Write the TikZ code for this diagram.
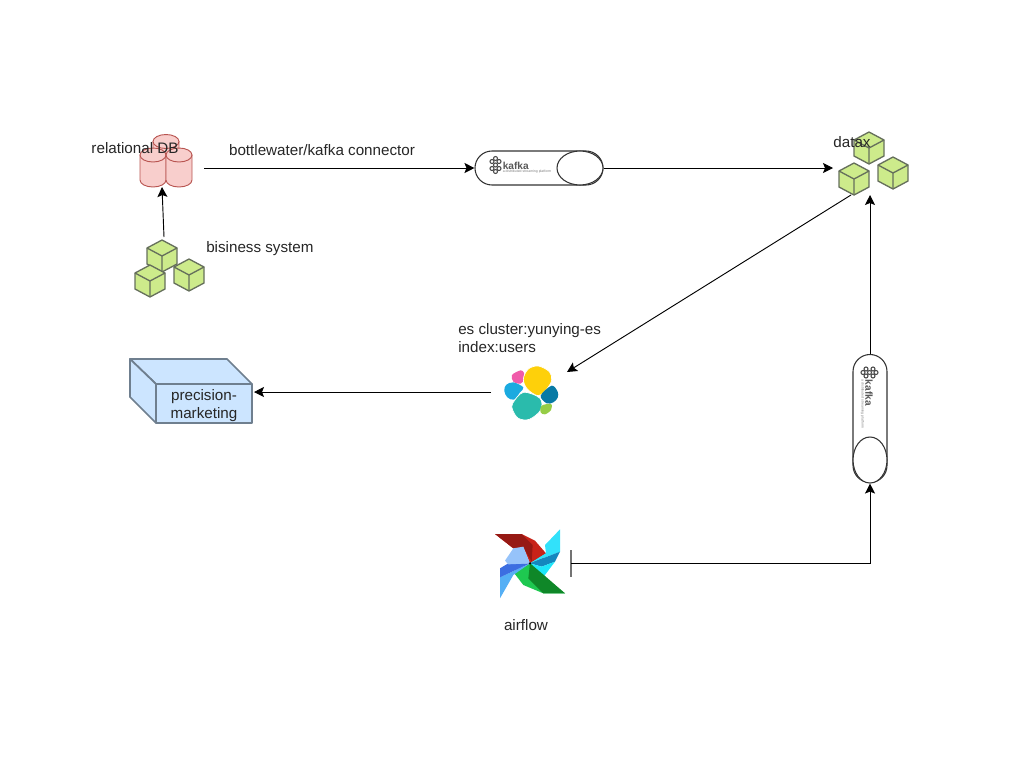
\documentclass[tikz,border=0pt]{standalone}
\usepackage{fontspec}
\setmainfont{Liberation Sans}
\usetikzlibrary{positioning,calc,arrows.meta,shapes.misc,shapes.geometric}
\definecolor{dbfill}{HTML}{F8CECC}
\definecolor{dbline}{HTML}{B85450}
\definecolor{cubefill}{HTML}{CDEB8B}
\definecolor{cubeline}{HTML}{66705C}
\definecolor{boxfill}{HTML}{CCE5FF}
\definecolor{boxline}{HTML}{6F7F8F}
\tikzset{>={Stealth[length=7.5pt,width=7.5pt,inset=1.5pt]}}
\tikzset{flow/.style={->,line width=.7pt,black}}
\tikzset{lab/.style={font=\fontsize{11.4}{13.5}\selectfont,inner sep=0pt,text=black!85}}
\tikzset{pipe/.style={draw=black!80,line width=.8pt,fill=white,rounded rectangle,minimum width=96pt,minimum height=25.5pt,inner sep=0pt}}
\tikzset{pipeend/.style={draw=black!80,line width=.8pt,fill=white,ellipse,minimum width=34.5pt,minimum height=25.5pt,inner sep=0pt}}
\tikzset{facecube/.style={draw=boxline,line width=1.3pt,fill=boxfill,line join=round}}
\tikzset{cubeface/.style={draw=cubeline,line width=1pt,fill=cubefill,line join=round}}
\tikzset{dbcyl/.style={draw=dbline,line width=.7pt,fill=dbfill}}
\tikzset{blob/.style={smooth cycle,tension=.55}}
\tikzset{cube/.pic={
		\draw[cubeface] (0,-16) -- (15,-8) -- (15,8) -- (0,16) -- (-15,8) -- (-15,-8) -- cycle;
		\draw[cubeline,line width=1pt] (-15,-8) -- (0,0) -- (15,-8) (0,0) -- (0,16);
	}}
\tikzset{cyl/.pic={
		\draw[dbcyl] (-13,-25) -- (-13,0) arc[x radius=13,y radius=7,start angle=180,end angle=0] -- (13,-25) -- cycle;
		\draw[dbcyl] (0,-25) ellipse[x radius=13,y radius=7];
	}}
\tikzset{kafkalogo/.pic={
		\foreach \p in {(0,-6.5),(-3.5,-3.5),(3.5,-3.5),(0,0),(-3.5,3.5),(3.5,3.5),(0,6.5)}
			\draw[black!70,line width=.8pt] \p circle[radius=2];
		\node[inner sep=0pt,anchor=west,transform shape,text=black!65,font=\fontsize{7.6}{8}\selectfont\bfseries] (kafkaword) at (7,0.5) {kafka};
		\node[inner sep=0pt,anchor=west,transform shape,text=black!50,font=\fontsize{2.6}{3}\selectfont] (kafkasub) at (7,7) {a distributed streaming platform};
	}}
\begin{document}
\begin{tikzpicture}[x=.75pt,y=-.75pt]
		\useasboundingbox (0,0) rectangle (1024,768);

		% relational db
		\pic at (166,166.5) {cyl};
		\pic at (153,180) {cyl};
		\pic at (179,180) {cyl};
		\coordinate (dbout) at (204,168);
		\coordinate (dbin) at (162,187);
		\node[lab] (dblabel) at (135,148) {relational DB};

		% business system
		\pic at (162,256) {cube};
		\pic at (150,281) {cube};
		\pic at (189,275) {cube};
		\coordinate (bizout) at (164,237);
		\node[lab,anchor=west] (bizlabel) at (206,249) {bisiness system};

		% first kafka
		\node[pipe] (kafkaa) at (539,168) {};
		\node[pipeend] (kafkaaend) at (580,168) {};
		\pic at (495.5,165) {kafkalogo};

		% datax
		\pic at (869,148) {cube};
		\pic at (854,179) {cube};
		\pic at (893,173) {cube};
		\coordinate (dataxin) at (833,168);
		\coordinate (dataxout) at (851,195);
		\coordinate (dataxlow) at (870,195);
		\node[lab] (dataxlabel) at (852,142) {datax};

		% es
		\begin{scope}[shift={(490,355)},x=.25pt,y=-.25pt]
			\fill[color={rgb,255:red,240;green,91;blue,170}] plot[blob] coordinates {(66,60) (92,46) (102,54) (102,72) (92,86) (70,80)};
			\fill[color={rgb,255:red,26;green,170;blue,224}] plot[blob] coordinates {(48,90) (70,82) (100,97) (90,112) (72,134) (52,127) (43,108)};
			\filldraw[draw=white,line width=.5pt,fill={rgb,255:red,254;green,208;blue,10}] plot[blob] coordinates {(115,42) (145,33) (178,50) (185,75) (172,100) (145,122) (112,102) (100,72)};
			\filldraw[draw=white,line width=.5pt,fill={rgb,255:red,42;green,187;blue,172}] plot[blob] coordinates {(68,145) (100,112) (150,130) (152,165) (118,193) (85,190) (68,165)};
			\fill[color={rgb,255:red,8;green,122;blue,165}] plot[blob] coordinates {(152,122) (185,92) (203,110) (203,128) (190,142) (170,145)};
			\fill[color={rgb,255:red,150;green,205;blue,70}] plot[blob] coordinates {(155,152) (183,147) (183,165) (165,178) (152,172)};
		\end{scope}
		\coordinate (esin) at (567,372);
		\coordinate (esout) at (491,392);
		\node[lab,anchor=north west,align=left] (eslabel) at (458,323) {es cluster:yunying-es\\index:users};

		% precision marketing box
		\draw[facecube] (130,359) -- (227,359) -- (252,384) -- (156,384) -- cycle;
		\draw[facecube] (130,359) -- (156,384) -- (156,423) -- (130,397) -- cycle;
		\node[facecube,minimum width=72pt,minimum height=29.25pt,inner sep=0pt] (market) at (204,403.5) {};
		\node[lab,align=center] (marketlabel) at (204,406) {precision-\\marketing};
		\coordinate (marketin) at (254,392);

		% second kafka
		\node[pipe,rotate=90] (kafkab) at (870,418.5) {};
		\node[pipeend,rotate=90] (kafkabend) at (870,460) {};
		\pic[rotate=-90] at (869.5,372.5) {kafkalogo};

		% airflow
		\begin{scope}[shift={(480,520)},x=.25pt,y=-.25pt]
			\fill[color={rgb,255:red,200;green,35;blue,25}] (45,42) -- (125,42) -- (165,62) -- (198,100) -- (190,118) -- (150,130) -- (130,82) -- (100,85) -- cycle;
			\fill[color={rgb,255:red,150;green,25;blue,20}] (45,42) -- (125,42) -- (158,75) -- (155,125) -- (130,82) -- (100,85) -- cycle;
			\fill[color={rgb,255:red,50;green,225;blue,250}] (240,28) -- (240,95) -- (198,108) -- (150,130) -- (198,100) -- (195,75) -- cycle;
			\fill[color={rgb,255:red,50;green,225;blue,250}] (240,95) -- (198,100) -- (150,130) -- cycle;
			\fill[color={rgb,255:red,20;green,135;blue,190}] (240,95) -- (225,125) -- (185,140) -- (150,130) -- cycle;
			\fill[color={rgb,255:red,30;green,230;blue,250}] (150,130) -- (185,140) -- (225,125) -- (185,178) -- (152,155) -- cycle;
			\fill[color={rgb,255:red,30;green,200;blue,80}] (150,130) -- (103,160) -- (130,195) -- (190,220) -- (255,220) -- (190,170) -- cycle;
			\fill[color={rgb,255:red,15;green,135;blue,40}] (150,130) -- (145,175) -- (190,220) -- (255,220) -- (195,168) -- cycle;
			\fill[color={rgb,255:red,85;green,175;blue,245}] (60,235) -- (60,172) -- (150,130) -- (100,165) -- cycle;
			\fill[color={rgb,255:red,60;green,110;blue,225}] (60,172) -- (60,145) -- (85,130) -- (150,130) -- cycle;
			\fill[color={rgb,255:red,150;green,195;blue,250}] (75,122) -- (100,85) -- (130,80) -- (150,130) -- (85,133) -- cycle;
			\fill[black] (150,130) circle[radius=4];
		\end{scope}
		\coordinate (airout) at (571,563);
		\draw[black!55,line width=.8pt] ($(airout)+(0,-13)$) -- ($(airout)+(0,14)$);
		\node[lab] (airlabel) at (526,625) {airflow};

		% connectors
		\draw[flow] (dbout) -- (kafkaa.west);
		\draw[flow] (bizout) -- (dbin);
		\draw[flow] (kafkaaend.east) -- (dataxin);
		\draw[flow] (dataxout) -- (esin);
		\draw[flow] (esout) -- (marketin);
		\draw[flow] (kafkab.east) -- (dataxlow);
		\draw[flow] (airout) -| (kafkabend.west);
		\node[lab] (linklabel) at (322,150) {bottlewater/kafka connector};
	\end{tikzpicture}
\end{document}
